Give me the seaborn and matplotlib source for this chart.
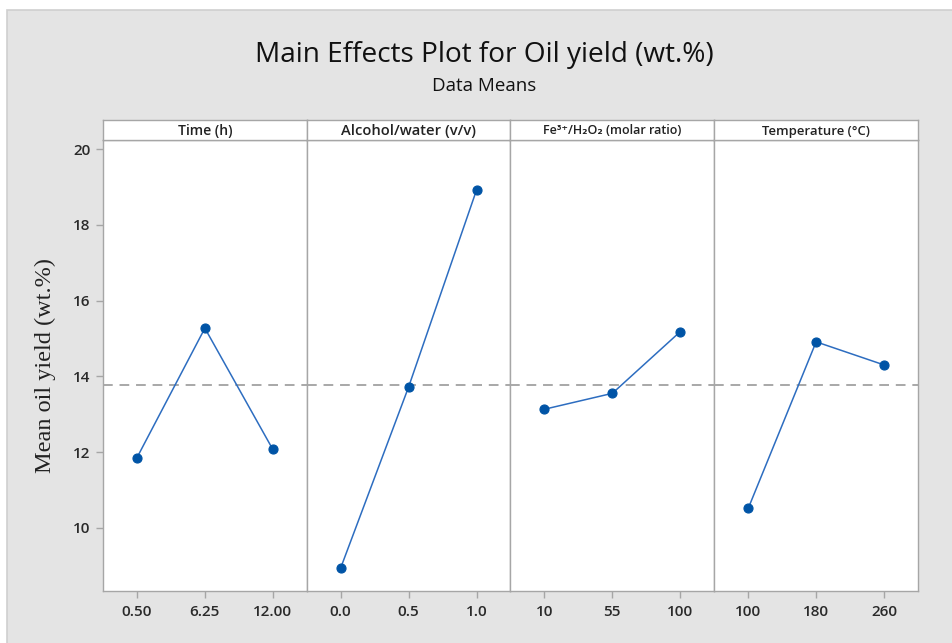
import seaborn as sns
import matplotlib.pyplot as plt
from matplotlib.patches import Rectangle

# Factor names and levels
factors = ['Time (h)', 'Alcohol/water (v/v)', 'Fe³⁺/H₂O₂ (molar ratio)', 'Temperature (°C)']
time_levels = ['0.50', '6.25', '12.00']
alcohol_levels = ['0.0', '0.5', '1.0']
fe_levels = ['10', '55', '100']
temp_levels = ['100', '180', '260']

# Mean oil yield (wt.%) at each level
time_means = [11.85, 15.27, 12.07]
alcohol_means = [8.94, 13.72, 18.92]
fe_means = [13.13, 13.55, 15.18]
temp_means = [10.51, 14.91, 14.30]

grand_mean = 13.78

levels = [time_levels, alcohol_levels, fe_levels, temp_levels]
means = [time_means, alcohol_means, fe_means, temp_means]
strip_sizes = [11, 11.5, 9.8, 10.3]

sns.set_theme(style="white")
plt.rcParams['font.family'] = ['Open Sans', 'DejaVu Sans']

W, H = 953, 643
fig = plt.figure(figsize=(W / 100, H / 100), dpi=100, facecolor='white')

# grey canvas like Minitab output
bg = Rectangle((7 / W, -0.01), 1.02 - 7 / W, 1.01 - 10 / H, transform=fig.transFigure,
               facecolor='#e4e4e4', edgecolor='#cfcfcf', lw=1.2, zorder=-10)
fig.add_artist(bg)

left, right = 103 / W, 918 / W
bottom, top = 1 - 591 / H, 1 - 140 / H
strip_top = 1 - 120 / H
pw = (right - left) / 4
grey = '#a6a6a6'

for i in range(4):
    ax = fig.add_axes([left + i * pw, bottom, pw, top - bottom])
    sax = fig.add_axes([left + i * pw, top, pw, strip_top - top])

    sns.pointplot(x=levels[i], y=means[i], ax=ax, color='#0054a6', markers='o',
                  linestyles='-', markersize=6.5, linewidth=1.1)
    for ln in ax.lines:
        ln.set_color('#2d6dc0')
        ln.set_markerfacecolor('#0054a6')
        ln.set_markeredgecolor('#0054a6')
    ax.axhline(grand_mean, color='#a8a8a8', lw=1.4, ls=(0, (5, 3.5)), zorder=0)

    ax.set_xlim(-0.5, 2.5)
    ax.set_ylim(8.33, 20.24)
    ax.set_facecolor('white')
    for sp in ax.spines.values():
        sp.set_color(grey)
        sp.set_linewidth(1)
    ax.tick_params(axis='x', length=5, width=1, color=grey, labelsize=11,
                   labelcolor='#2a2a2a', pad=5, bottom=True)
    for t in ax.get_xticklabels():
        t.set_fontweight('semibold')
    ax.set_xlabel('')
    ax.set_yticks([10, 12, 14, 16, 18, 20])
    if i == 0:
        ax.tick_params(axis='y', length=5, width=1, color=grey, labelsize=11,
                       labelcolor='#2a2a2a', pad=4, left=True)
        for t in ax.get_yticklabels():
            t.set_fontweight('semibold')
        ax.set_ylabel('Mean oil yield (wt.%)', family='Liberation Serif', fontsize=17.5,
                      color='#222222', labelpad=12)
    else:
        ax.tick_params(axis='y', left=False, labelleft=False)
        ax.set_ylabel('')

    sax.set_xticks([])
    sax.set_yticks([])
    sax.set_facecolor('white')
    for sp in sax.spines.values():
        sp.set_color(grey)
        sp.set_linewidth(1)
    sax.text(0.5, 0.45, factors[i], ha='center', va='center', transform=sax.transAxes,
             fontsize=strip_sizes[i] * 0.92, fontweight='semibold', color='#222222')

fig.text(484 / W, 1 - 55 / H, 'Main Effects Plot for Oil yield (wt.%)', ha='center', va='center',
         fontsize=20.2, fontweight='medium', color='#111111')
fig.text(484 / W, 1 - 86 / H, 'Data Means', ha='center', va='center', fontsize=13.5,
         fontweight='medium', color='#111111')

fig.savefig('out.png', dpi=100)
